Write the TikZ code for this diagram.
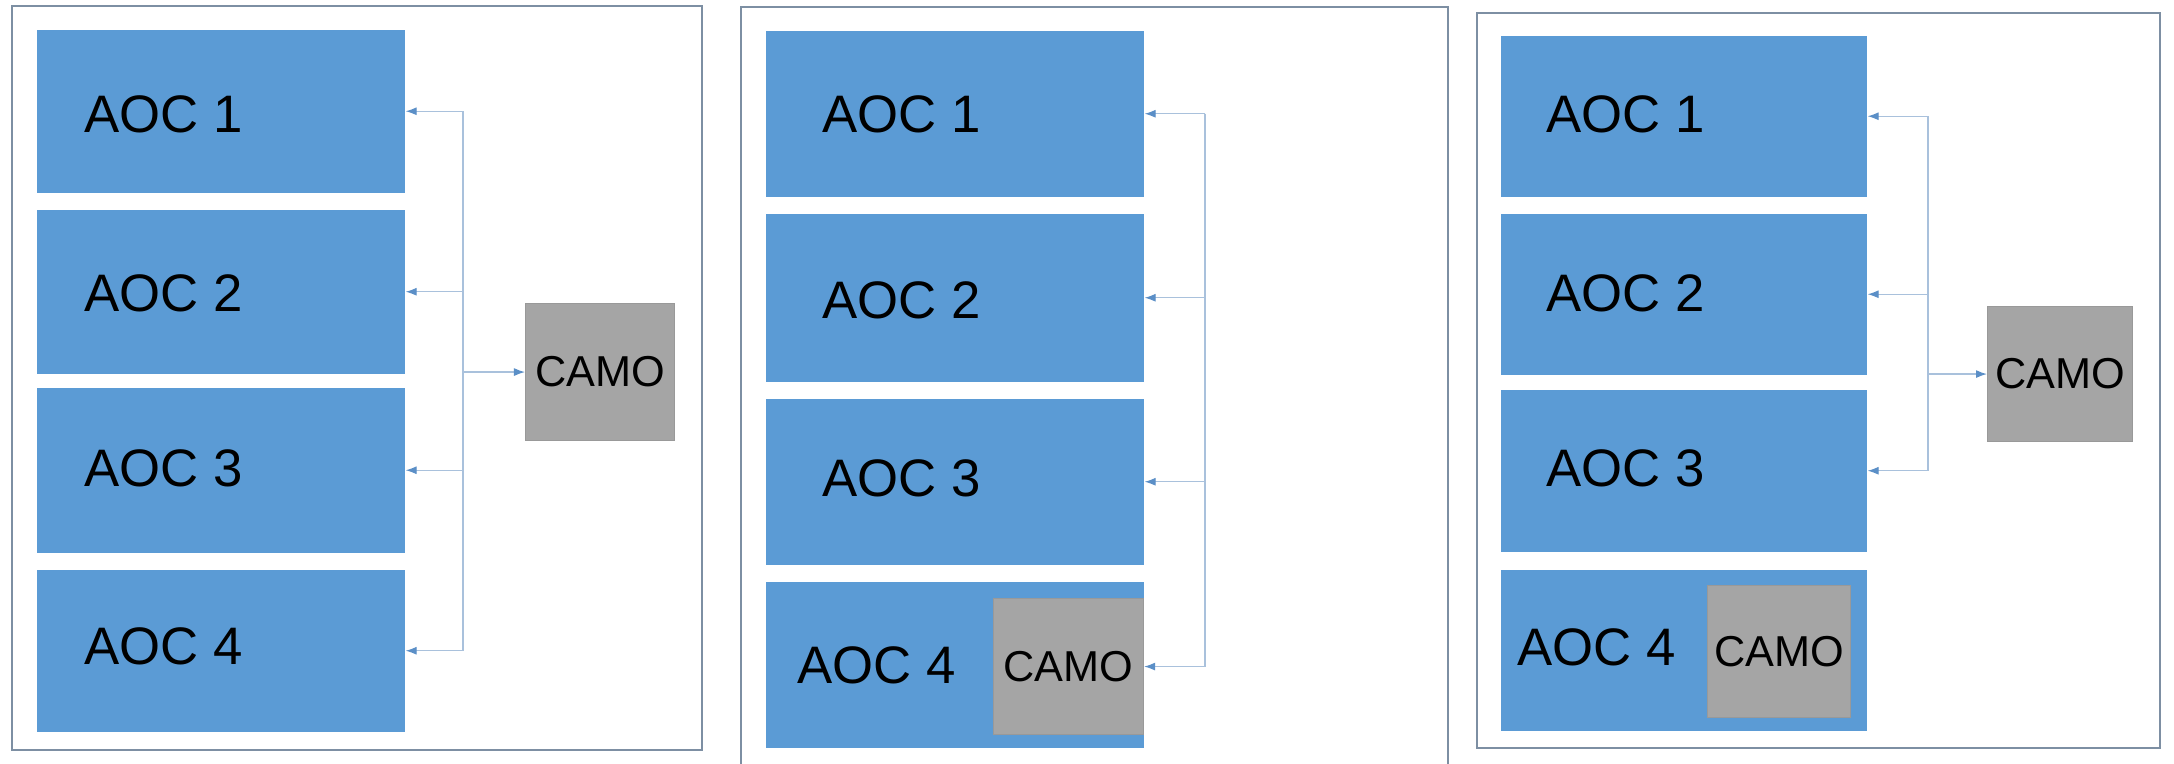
\documentclass[tikz,border=0pt]{standalone}
\usepackage{fontspec}
\setmainfont{Liberation Sans}
\usetikzlibrary{arrows.meta}
\definecolor{aocblue}{HTML}{5B9BD5}
\definecolor{camogray}{HTML}{A5A5A5}
\definecolor{framecol}{HTML}{7D8FA3}
\definecolor{conncol}{HTML}{A9C1DC}
\definecolor{tipcol}{HTML}{5B8FC7}
\tikzset{
  frame/.style={draw=framecol, line width=0.6pt, fill=white},
  aoc/.style={fill=aocblue, draw=none, anchor=north west, inner sep=0pt},
  camo/.style={fill=camogray, draw=gray!80, line width=0.3pt, anchor=north west, inner sep=0pt,
    font=\fontsize{12.3pt}{14pt}\selectfont},
  lbl/.style={anchor=base west, inner sep=0pt, font=\fontsize{15pt}{18pt}\selectfont},
  conn/.style={draw=conncol, line width=0.35pt},
  arr/.style={conn, -{Latex[length=0.11cm,width=0.08cm,color=tipcol]}}
}
\begin{document}
\begin{tikzpicture}[x=0.01cm,y=-0.01cm]
\useasboundingbox (0,0) rectangle (2174,764);
\fill[white] (0,0) rectangle (2174,764);
\clip (0,0) rectangle (2174,764);

% ---------- Panel 1 ----------
\draw[frame] (12,6) rectangle (702,750);
\node[aoc, minimum width=3.68cm, minimum height=1.63cm] (a11) at (36,29) {};
\node[aoc, minimum width=3.68cm, minimum height=1.64cm] (a12) at (36,209) {};
\node[aoc, minimum width=3.68cm, minimum height=1.65cm] (a13) at (36,387) {};
\node[aoc, minimum width=3.68cm, minimum height=1.62cm] (a14) at (36,569) {};
\node[lbl] (t11) at (84,133) {AOC 1};
\node[lbl] (t12) at (84,312) {AOC 2};
\node[lbl] (t13) at (84,487) {AOC 3};
\node[lbl] (t14) at (84,665) {AOC 4};
\node[camo, minimum width=1.49cm, minimum height=1.37cm] (c1) at (525,303) {CAMO};
\coordinate (bus1) at (463,0);
\draw[conn] (a11.east -| bus1) -- (a14.east -| bus1);
\draw[arr] (a11.east -| bus1) -- (a11.east);
\draw[arr] (a12.east -| bus1) -- (a12.east);
\draw[arr] (a13.east -| bus1) -- (a13.east);
\draw[arr] (a14.east -| bus1) -- (a14.east);
\draw[arr] (c1.west -| bus1) -- (c1.west);

% ---------- Panel 2 ----------
\draw[frame] (741,7) rectangle (1448,790);
\node[aoc, minimum width=3.78cm, minimum height=1.66cm] (a21) at (765,30) {};
\node[aoc, minimum width=3.78cm, minimum height=1.68cm] (a22) at (765,213) {};
\node[aoc, minimum width=3.78cm, minimum height=1.66cm] (a23) at (765,398) {};
\node[aoc, minimum width=3.78cm, minimum height=1.66cm] (a24) at (765,581) {};
\node[lbl] (t21) at (822,133) {AOC 1};
\node[lbl] (t22) at (822,319) {AOC 2};
\node[lbl] (t23) at (822,497) {AOC 3};
\node[lbl] (t24) at (797,684) {AOC 4};
\node[camo, minimum width=1.50cm, minimum height=1.36cm] (c2) at (993,598) {CAMO};
\coordinate (bus2) at (1205,0);
\draw[conn] (a21.east -| bus2) -- (c2.east -| bus2);
\draw[arr] (a21.east -| bus2) -- (a21.east);
\draw[arr] (a22.east -| bus2) -- (a22.east);
\draw[arr] (a23.east -| bus2) -- (a23.east);
\draw[arr] (c2.east -| bus2) -- (c2.east);

% ---------- Panel 3 ----------
\draw[frame] (1477,13) rectangle (2160,748);
\node[aoc, minimum width=3.66cm, minimum height=1.61cm] (a31) at (1500,35) {};
\node[aoc, minimum width=3.66cm, minimum height=1.61cm] (a32) at (1500,213) {};
\node[aoc, minimum width=3.66cm, minimum height=1.62cm] (a33) at (1500,389) {};
\node[aoc, minimum width=3.66cm, minimum height=1.61cm] (a34) at (1500,569) {};
\node[lbl] (t31) at (1546,133) {AOC 1};
\node[lbl] (t32) at (1546,312) {AOC 2};
\node[lbl] (t33) at (1546,487) {AOC 3};
\node[lbl] (t34) at (1517,666) {AOC 4};
\node[camo, minimum width=1.43cm, minimum height=1.32cm] (c3i) at (1707,585) {CAMO};
\node[camo, minimum width=1.45cm, minimum height=1.35cm] (c3) at (1987,306) {CAMO};
\coordinate (bus3) at (1928,0);
\draw[conn] (a31.east -| bus3) -- (a33.east -| bus3);
\draw[arr] (a31.east -| bus3) -- (a31.east);
\draw[arr] (a32.east -| bus3) -- (a32.east);
\draw[arr] (a33.east -| bus3) -- (a33.east);
\draw[arr] (c3.west -| bus3) -- (c3.west);
\end{tikzpicture}
\end{document}
